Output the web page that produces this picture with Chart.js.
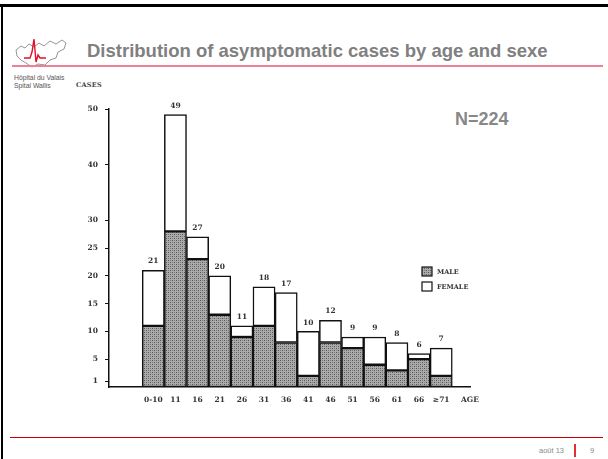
<!DOCTYPE html>
<html><head><meta charset="utf-8">
<script src="https://cdn.jsdelivr.net/npm/chart.js@4.4.1/dist/chart.umd.min.js"></script>
<style>
html,body{margin:0;padding:0;width:608px;height:459px;overflow:hidden;background:#fff;font-family:"Liberation Sans",Arial,sans-serif;}
#wrap{position:relative;width:608px;height:459px;}
.abs{position:absolute;white-space:nowrap;}
#topline{left:0;top:4px;width:608px;height:3px;background:#000;}
#leftline{left:1px;top:4px;width:2px;height:455px;background:#000;}
#title{left:87px;top:41px;font-size:18.5px;font-weight:bold;color:#808080;line-height:20px;}
#pink{left:12px;top:65px;width:591px;height:2px;background:#ec8198;}
#logoTxt{left:14px;top:74px;font-size:6.8px;line-height:7.5px;color:#555;}
#cases{left:76px;top:81px;font-family:"DejaVu Serif",serif;font-size:6.5px;font-weight:bold;color:#444;letter-spacing:0.3px;}
#n{left:455px;top:109px;font-size:18px;line-height:20px;font-weight:bold;color:#888;}
#botline{left:10px;top:437px;width:593px;height:1px;background:#cc0000;}
#date{left:539px;top:446px;font-size:7.5px;color:#8a8a8a;}
#redbar{left:574px;top:444px;width:2px;height:13px;background:#e03030;}
#page{left:590px;top:446px;font-size:7.5px;color:#8a8a8a;}
canvas{position:absolute;left:0;top:0;}
</style></head>
<body><div id="wrap">
<div class="abs" id="topline"></div>
<div class="abs" id="leftline"></div>
<svg class="abs" style="left:12px;top:38px" width="58" height="32" viewBox="0 0 58 32">
  <path d="M4,12 L9,8 L13,10 L17,6 L22,9 L27,5 L32,8 L38,3 L44,6 L50,2 L54,5 L52,11 L46,14 L44,20 L38,22 L33,27 L26,26 L20,29 L14,25 L9,22 L5,18 Z" fill="none" stroke="#8a8a8a" stroke-width="0.9"/>
  <path d="M12,20 L18,20 L20,14 L22,1 L24,24 L26,17 L28,20 L34,20" fill="none" stroke="#e0102a" stroke-width="1.4"/>
</svg>
<div class="abs" id="title">Distribution of asymptomatic cases by age and sexe</div>
<div class="abs" id="pink"></div>
<div class="abs" id="logoTxt">Hôpital du Valais<br>Spital Wallis</div>
<div class="abs" id="cases">CASES</div>
<div class="abs" id="n">N=224</div>
<div class="abs" id="botline"></div>
<div class="abs" id="date">août 13</div>
<div class="abs" id="redbar"></div>
<div class="abs" id="page">9</div>
<canvas id="c" width="608" height="459"></canvas>
</div>
<script>
const ageLabels = ['0-10','11','16','21','26','31','36','41','46','51','56','61','66','≥71'];
const maleCases = [11,28,23,13,9,11,8,2,8,7,4,3,5,2];
const femaleCases = [10,21,4,7,2,7,9,8,4,2,5,5,1,5];
const yTickValues = [1,5,10,15,20,25,30,40,50];
const xAxisTitle = 'AGE';
const legendLabels = ['MALE','FEMALE'];

const totals = maleCases.map((m,i)=>m+femaleCases[i]);
const typeFont = {family:'"DejaVu Serif", serif', size:7.5, weight:'bold'};

function makePattern(){
  const c=document.createElement('canvas');c.width=4;c.height=4;
  const g=c.getContext('2d');
  g.fillStyle='#ababab';g.fillRect(0,0,4,4);
  g.fillStyle='#555';g.fillRect(0,0,1,1);g.fillRect(2,2,1,1);
  g.fillStyle='#7d7d7d';g.fillRect(2,0,1,1);g.fillRect(0,2,1,1);
  return g.createPattern(c,'repeat');
}
const ctx0=document.getElementById('c').getContext('2d');
const hatch=makePattern();

const overlay={
  id:'overlay',
  afterDatasetsDraw(chart){
    const ctx=chart.ctx;
    const meta=chart.getDatasetMeta(1);
    ctx.save();
    ctx.font='bold 7.5px "DejaVu Serif", serif';
    ctx.fillStyle='#333';
    ctx.textAlign='center';ctx.textBaseline='bottom';
    meta.data.forEach((el,i)=>{ctx.fillText(String(totals[i]), el.x, el.y-5);});
    const lx=422, ly=267;
    [[hatch,legendLabels[0]],['#fff',legendLabels[1]]].forEach((it,k)=>{
      const y=ly+k*15;
      ctx.fillStyle=it[0];ctx.fillRect(lx,y,10,9);
      ctx.strokeStyle='#111';ctx.lineWidth=1.2;ctx.strokeRect(lx,y,10,9);
      ctx.fillStyle='#333';ctx.textAlign='left';ctx.textBaseline='middle';
      ctx.font='bold 6.5px "DejaVu Serif", serif';
      ctx.fillText(it[1], lx+15, y+5);
    });
    ctx.restore();
  }
};

new Chart(ctx0,{
  type:'bar',
  data:{
    datasets:[
      {label:legendLabels[0],data:maleCases.map((v,i)=>({x:i,y:v})),backgroundColor:hatch,borderColor:'#111',borderWidth:1.5,borderSkipped:false},
      {label:legendLabels[1],data:femaleCases.map((v,i)=>({x:i,y:v})),backgroundColor:'#fff',borderColor:'#111',borderWidth:1.5,borderSkipped:false}
    ]
  },
  options:{
    responsive:false,animation:false,devicePixelRatio:1,
    barPercentage:1,categoryPercentage:1,
    layout:{padding:{left:79,top:109,right:138,bottom:42}},
    plugins:{legend:{display:false},tooltip:{enabled:false}},
    scales:{
      x:{type:'linear',min:-2,max:14.3,offset:false,stacked:true,
        grid:{display:false,offset:false},
        border:{display:true,color:'#111',width:1.5},
        afterBuildTicks(s){s.ticks=ageLabels.map((_,i)=>({value:i})).concat([{value:14.3}]);},
        afterFit(s){s.height=30;},
        ticks:{autoSkip:false,maxRotation:0,padding:1,color:'#333',font:typeFont,
          callback(v,i){return i<ageLabels.length?ageLabels[i]:xAxisTitle;}}
      },
      y:{type:'linear',min:0,max:50,stacked:true,
        grid:{display:true,drawOnChartArea:false,drawTicks:true,tickLength:4,color:'#111',lineWidth:1},
        border:{display:true,color:'#111',width:1.5},
        afterBuildTicks(s){s.ticks=yTickValues.map(v=>({value:v}));},
        afterFit(s){s.width=30;},
        ticks:{padding:7,color:'#333',font:typeFont}
      }
    }
  },
  plugins:[overlay]
});
</script>
</body></html>
